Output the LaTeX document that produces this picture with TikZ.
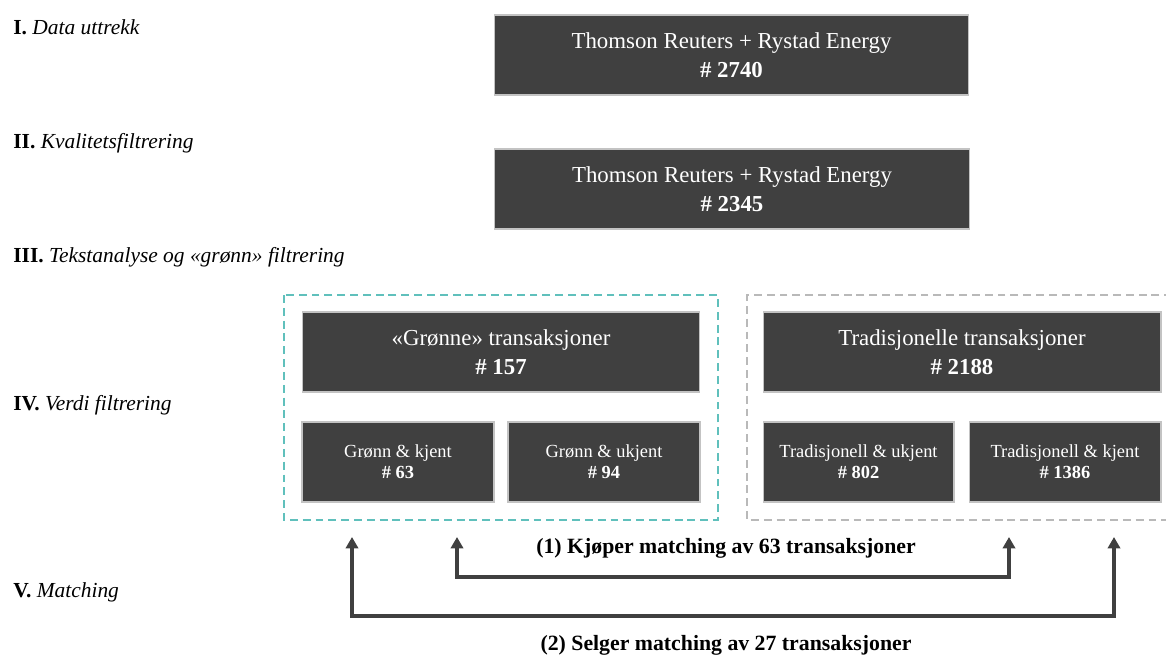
\documentclass[tikz,border=0pt]{standalone}
\usepackage{fontspec}
\setmainfont{Liberation Serif}
\usetikzlibrary{arrows.meta}
\definecolor{boxfill}{RGB}{64,64,64}
\definecolor{boxline}{RGB}{195,195,195}
\definecolor{grnline}{RGB}{96,192,188}
\definecolor{grayline}{RGB}{185,185,185}
\definecolor{arrowcol}{RGB}{64,64,64}
\begin{document}
\begin{tikzpicture}[x=0.02cm,y=-0.02cm,
  darkbox/.style={draw=boxline, line width=0.6pt, fill=boxfill, text=white, align=center, inner sep=0pt, minimum height=1.6cm},
  bigtext/.style={font=\fontsize{13}{16.5}\selectfont},
  smalltext/.style={font=\fontsize{10.5}{12}\selectfont},
  lbl/.style={anchor=west, inner sep=0pt, font=\fontsize{12.2}{14}\selectfont},
  matchlbl/.style={font=\bfseries\fontsize{12.4}{14}\selectfont, inner sep=0pt},
  conn/.style={draw=arrowcol, line width=2.2pt, line join=miter, {Triangle[length=6.5pt,width=7pt]}-{Triangle[length=6.5pt,width=7pt]}},
  grngroup/.style={draw=grnline, line width=1.1pt, dash pattern=on 4.5pt off 2.8pt},
  graygroup/.style={draw=grayline, line width=1.1pt, dash pattern=on 4.5pt off 2.8pt}]
\useasboundingbox (0,0) rectangle (1166,655);
\clip (0,0) rectangle (1166,655);

% stage labels
\node[lbl] (s1) at (13,27) {\textbf{I.} \textit{Data uttrekk}};
\node[lbl] (s2) at (13,143) {\textbf{II.} \textit{Kvalitetsfiltrering}};
\node[lbl] (s3) at (13,257) {\textbf{III.} \textit{Tekstanalyse og «grønn» filtrering}};
\node[lbl] (s4) at (13,405) {\textbf{IV.} \textit{Verdi filtrering}};
\node[lbl] (s5) at (13,592) {\textbf{V.} \textit{Matching}};

% top boxes
\node[darkbox, bigtext, minimum width=9.5cm] (b1) at (731.5,55) {Thomson Reuters + Rystad Energy\\\textbf{\# 2740}};
\node[darkbox, bigtext, minimum width=9.52cm] (b2) at (732,189) {Thomson Reuters + Rystad Energy\\\textbf{\# 2345}};

% groups
\draw[grngroup] (284,295) rectangle (718,520);
\draw[graygroup] (1185,295) -- (747,295) -- (747,520) -- (1185,520);

\node[darkbox, bigtext, minimum width=7.96cm] (g) at (501,352) {«Grønne» transaksjoner\\\textbf{\# 157}};
\node[darkbox, bigtext, minimum width=7.96cm] (t) at (962,352) {Tradisjonelle transaksjoner\\\textbf{\# 2188}};

\node[darkbox, smalltext, minimum width=3.84cm] (gk) at (398,462) {Grønn \& kjent\\\textbf{\# 63}};
\node[darkbox, smalltext, minimum width=3.84cm] (gu) at (604,462) {Grønn \& ukjent\\\textbf{\# 94}};
\node[darkbox, smalltext, minimum width=3.82cm] (tu) at (858.5,462) {Tradisjonell \& ukjent\\\textbf{\# 802}};
\node[darkbox, smalltext, minimum width=3.84cm] (tk) at (1065,462) {Tradisjonell \& kjent\\\textbf{\# 1386}};

% matching connectors
\coordinate (a1) at (457,537);
\coordinate (b1t) at (1009,537);
\coordinate (h1) at (0,577);
\coordinate (a2) at (352,537);
\coordinate (b2t) at (1114,537);
\coordinate (h2) at (0,616);
\draw[conn] (a1) -- (a1 |- h1) -- (b1t |- h1) -- (b1t);
\draw[conn] (a2) -- (a2 |- h2) -- (b2t |- h2) -- (b2t);

\node[matchlbl] (m1) at (726,548) {(1) Kjøper matching av 63 transaksjoner};
\node[matchlbl] (m2) at (726,645) {(2) Selger matching av 27 transaksjoner};
\end{tikzpicture}
\end{document}
